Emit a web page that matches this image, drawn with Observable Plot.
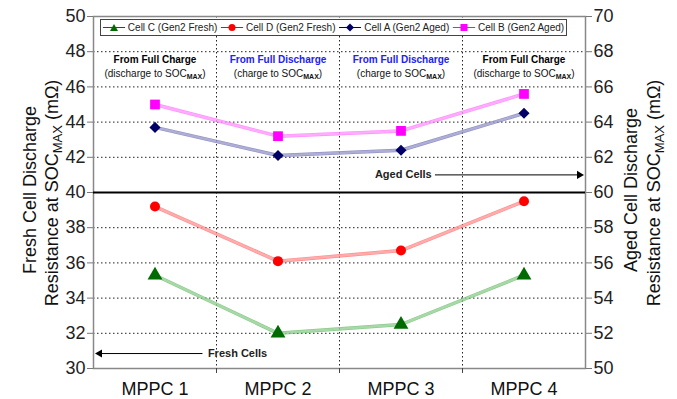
<!DOCTYPE html>
<html><head><meta charset="utf-8">
<script src="https://cdn.jsdelivr.net/npm/d3@7"></script>
<script src="https://cdn.jsdelivr.net/npm/@observablehq/plot@0.6"></script>
<style>
body{margin:0;background:#fff;font-family:"Liberation Sans",Arial,sans-serif}
#wrap{position:relative;width:677px;height:399px}
#legend{position:absolute;left:100px;top:19px;width:465px;height:15px;border:1px solid #444;background:#fff;display:flex;align-items:center;justify-content:space-around;font-size:10px;color:#222;white-space:nowrap;font-family:"Liberation Sans",Arial,sans-serif}
#legend span{display:inline-flex;align-items:center}
#legend svg{margin-right:3px}
</style>
</head><body><div id="wrap"></div>
<script>
const categories = ["MPPC 1", "MPPC 2", "MPPC 3", "MPPC 4"];
const seriesNames = ["Cell C (Gen2 Fresh)", "Cell D (Gen2 Fresh)", "Cell A (Gen2 Aged)", "Cell B (Gen2 Aged)"];
const cellC = [35.3, 32.0, 32.5, 35.3];   // left axis (fresh)
const cellD = [39.2, 36.1, 36.7, 39.5];   // left axis (fresh)
const cellA = [63.7, 62.1, 62.4, 64.5];   // right axis (aged)
const cellB = [65.0, 63.2, 63.5, 65.6];   // right axis (aged)
const conditionTitles = ["From Full Charge", "From Full Discharge", "From Full Discharge", "From Full Charge"];
const conditionNotes = ["(discharge to SOC|MAX|)", "(charge to SOC|MAX|)", "(charge to SOC|MAX|)", "(discharge to SOC|MAX|)"];
const leftTicks = [30, 32, 34, 36, 38, 40, 42, 44, 46, 48, 50];
const rightTicks = [50, 52, 54, 56, 58, 60, 62, 64, 66, 68, 70];

const leftDomain = [30, 50], rightDomain = [50, 70];
const offset = rightDomain[0] - leftDomain[0];
const idx = categories.map((c, i) => i + 1);
const boundaries = idx.slice(0, -1).map(i => i + 0.5);

const styles = [
  {vals: cellC, aged: false, line: "#4fb04f", dark: "#006b00", symbol: "triangle", r: 5.5},
  {vals: cellD, aged: false, line: "#ff5555", dark: "#ff0000", symbol: "circle", r: 5},
  {vals: cellA, aged: true, line: "#5a5aaa", dark: "#000066", symbol: "diamond2", r: 5},
  {vals: cellB, aged: true, line: "#ff55ff", dark: "#ff00ff", symbol: "square", r: 5.5}
];

const FONT = '"Liberation Sans", Arial, sans-serif';
const marks = [
  Plot.ruleY(leftTicks.filter(t => t > leftDomain[0] && t < leftDomain[1] && t !== 40), {stroke: "#222", strokeDasharray: "1.5,2.5", strokeWidth: 1}),
  Plot.ruleX(boundaries, {stroke: "#222", strokeDasharray: "1.5,2.5", strokeWidth: 1}),
  Plot.frame({stroke: "#888", strokeWidth: 1.5}),
  Plot.ruleY([40], {stroke: "#000", strokeWidth: 2}),
  Plot.axisY({anchor: "left", ticks: leftTicks, tickSize: 6, tickPadding: 2, fontSize: 18, stroke: "#777", fill: "#222", label: null}),
  Plot.axisY({anchor: "right", ticks: leftTicks, tickSize: 6, tickPadding: 2, fontSize: 18, stroke: "#777", fill: "#222", label: null, tickFormat: d => d + offset}),
  Plot.axisX({ticks: boundaries, tickSize: 5, tickFormat: () => "", stroke: "#444", label: null}),
  Plot.axisX({ticks: idx, tickSize: 0, tickPadding: 14, fontSize: 18, fill: "#111", tickFormat: i => categories[i - 1], label: null}),
  Plot.text(idx, {x: d => d, y: 47.55, text: i => conditionTitles[i - 1], fontWeight: "bold", fontSize: 10, fill: i => conditionTitles[i - 1].includes("Discharge") ? "#2020ff" : "#000"}),
  Plot.text(idx, {x: d => d, y: 46.75, text: i => conditionNotes[i - 1], fontSize: 10, fill: "#111"}),
  // Aged / Fresh annotations
  Plot.ruleY([41.0], {x1: 3.28, x2: 4.44, stroke: "#000", strokeWidth: 1}),
  Plot.dot([0], {x: 4.45, y: 41.0, symbol: "triangle", rotate: 90, r: 3, fill: "#000"}),
  Plot.text(["Aged Cells"], {x: 3.25, y: 41.0, text: d => d, textAnchor: "end", fontWeight: "bold", fontSize: 11, fill: "#222"}),
  Plot.ruleY([30.85], {x1: 0.56, x2: 1.39, stroke: "#000", strokeWidth: 1}),
  Plot.dot([0], {x: 0.55, y: 30.85, symbol: "triangle", rotate: -90, r: 3, fill: "#000"}),
  Plot.text(["Fresh Cells"], {x: 1.43, y: 30.85, text: d => d, textAnchor: "start", fontWeight: "bold", fontSize: 11, fill: "#222"})
];

styles.forEach((s, k) => {
  const rows = s.vals.map((v, i) => ({i: i + 1, v: s.aged ? v - offset : v, name: seriesNames[k]}));
  marks.push(Plot.line(rows, {x: "i", y: "v", stroke: s.line, strokeWidth: 3.5, strokeOpacity: 0.7}));
  marks.push(Plot.line(rows, {x: "i", y: "v", stroke: "#fff", strokeWidth: 2.5, strokeDasharray: "1,1.5", strokeOpacity: 0.3}));
  marks.push(Plot.dot(rows, {x: "i", y: "v", symbol: s.symbol, r: s.r, fill: s.dark, stroke: "none"}));
});

const chart = Plot.plot({
  width: 677, height: 399,
  marginLeft: 93, marginRight: 92, marginTop: 16, marginBottom: 31,
  style: {fontFamily: FONT, background: "#fff", overflow: "visible"},
  x: {domain: [0.5, categories.length + 0.5], axis: null},
  y: {domain: leftDomain, axis: null},
  marks
});

const svg = d3.select(chart);
// subscript MAX in notes
svg.selectAll("text").each(function() {
  const t = this.textContent;
  if (t.includes("|MAX|")) {
    const parts = t.split("|MAX|");
    const el = d3.select(this);
    el.text(null);
    el.append("tspan").text(parts[0]);
    el.append("tspan").attr("font-size", "7").attr("font-weight", "bold").attr("dy", "2.5").text("MAX");
    el.append("tspan").attr("dy", "-2.5").text(parts[1]);
  }
});

function axisTitle(x, y) {
  return svg.append("text").attr("transform", `translate(${x},${y}) rotate(-90)`)
    .attr("text-anchor", "middle").attr("font-family", FONT).attr("font-size", 18).attr("fill", "#111");
}
function addTitles(x1, x2, first) {
  axisTitle(x1, 190).text(first);
  const t = axisTitle(x2, 193);
  t.append("tspan").text("Resistance at SOC");
  t.append("tspan").attr("font-size", 13).attr("dy", 4).text("MAX");
  t.append("tspan").attr("dy", -4).text(" (mΩ)");
}
addTitles(36, 58, "Fresh Cell Discharge");
addTitles(637, 660, "Aged Cell Discharge");

const wrap = document.getElementById("wrap");
wrap.appendChild(chart);

// legend
const legend = document.createElement("div");
legend.id = "legend";
const symPaths = {
  triangle: "M11,3 L15,10 L7,10 Z",
  diamond2: "M11,2.5 L15,6.5 L11,10.5 L7,6.5 Z",
  square: "M7.5,3 L14.5,3 L14.5,10 L7.5,10 Z"
};
styles.forEach((s, k) => {
  const span = document.createElement("span");
  const shape = s.symbol === "circle"
    ? `<circle cx="11" cy="6.5" r="3.5" fill="${s.dark}"/>`
    : `<path d="${symPaths[s.symbol]}" fill="${s.dark}"/>`;
  span.innerHTML = `<svg width="22" height="13"><line x1="0" x2="22" y1="6.5" y2="6.5" stroke="${s.dark}" stroke-width="1"/>${shape}</svg>${seriesNames[k]}`;
  legend.appendChild(span);
});
wrap.appendChild(legend);
</script>
</body></html>
